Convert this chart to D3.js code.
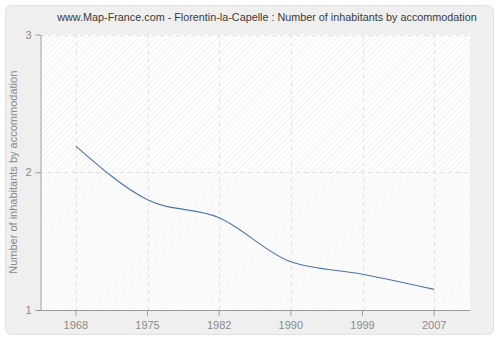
<!DOCTYPE html>
<html><head><meta charset="utf-8">
<script src="https://cdn.jsdelivr.net/npm/d3@7"></script>
<style>body{margin:0;background:#fff}svg{display:block}</style>
</head><body>
<script>
const title = "www.Map-France.com - Florentin-la-Capelle : Number of inhabitants by accommodation";
const yLabel = "Number of inhabitants by accommodation";
const years = ["1968","1975","1982","1990","1999","2007"];
const values = [2.19, 1.80, 1.67, 1.35, 1.26, 1.15];
const yTicks = [1, 2, 3];

const W = 500, H = 340;
const m = {left: 40, right: 470, top: 34.5, bottom: 310};
const svg = d3.select("body").append("svg").attr("width", W).attr("height", H);
const defs = svg.append("defs");
function hatch(id, bg, col){
  const p = defs.append("pattern").attr("id", id).attr("patternUnits","userSpaceOnUse")
    .attr("width", 4).attr("height", 4).attr("patternTransform","rotate(45)");
  p.append("rect").attr("width",4).attr("height",4).attr("fill",bg);
  p.append("line").attr("x1",0).attr("y1",0).attr("x2",0).attr("y2",4).attr("stroke",col).attr("stroke-width",1.2);
}
hatch("h1", "#ffffff", "#e9e9e9");
hatch("h2", "#fcfcfc", "#f2f2f2");

// outer panel
svg.append("rect").attr("x",5.5).attr("y",5.5).attr("width",488).attr("height",329).attr("rx",6)
  .attr("fill","#efefef").attr("stroke","#e2e2e2");

const x = d3.scaleBand().domain(years).range([m.left, m.right]);
const y = d3.scaleLinear().domain([1,3]).range([m.bottom, m.top]);

svg.append("rect").attr("x",m.left).attr("y",y(3)).attr("width",m.right-m.left).attr("height",y(2)-y(3)).attr("fill","url(#h1)");
svg.append("rect").attr("x",m.left).attr("y",y(2)).attr("width",m.right-m.left).attr("height",y(1)-y(2)).attr("fill","url(#h2)");

// grid
const g = svg.append("g");
g.selectAll(".vg").data(years).join("line")
  .attr("x1",d=>Math.round(x(d)+x.bandwidth()/2)+0.5).attr("x2",d=>Math.round(x(d)+x.bandwidth()/2)+0.5)
  .attr("y1",m.top).attr("y2",m.bottom)
  .attr("stroke","#e0e0e0").attr("stroke-dasharray","4,4");
g.selectAll(".hg").data(yTicks.slice(1)).join("line")
  .attr("x1",m.left).attr("x2",m.right)
  .attr("y1",d=>Math.round(y(d))+0.5).attr("y2",d=>Math.round(y(d))+0.5)
  .attr("stroke","#e0e0e0").attr("stroke-dasharray","4,4");

// line
const line = d3.line().x((d,i)=>x(years[i])+x.bandwidth()/2).y(d=>y(d)).curve(d3.curveMonotoneX);
svg.append("path").datum(values).attr("d",line).attr("fill","none").attr("stroke","#4a74ab").attr("stroke-width",1.1);

// axes
const font = "'Liberation Sans', Arial, sans-serif";
const xa = svg.append("g").attr("transform",`translate(0,${m.bottom+0.5})`)
  .call(d3.axisBottom(x).tickSize(5).tickSizeOuter(0).tickPadding(6));
const ya = svg.append("g").attr("transform",`translate(${m.left+0.5},0)`)
  .call(d3.axisLeft(y).tickValues(yTicks).tickFormat(d3.format("d")).tickSize(5).tickSizeOuter(0).tickPadding(4));
[xa, ya].forEach(a=>{
  a.select(".domain").attr("stroke","#9a9a9a");
  a.selectAll(".tick line").attr("stroke","#9a9a9a");
  a.selectAll("text").attr("fill","#8a8a8a").style("font-family",font).style("font-size","11px");
});
xa.select(".domain").attr("d",`M${m.left},0H${m.right}`);

svg.append("text").attr("x",267).attr("y",21).attr("text-anchor","middle")
  .style("font-family",font).style("font-size","10.8px").attr("fill","#3a3a3a").text(title);
svg.append("text").attr("transform",`translate(17,${y(2)}) rotate(-90)`).attr("text-anchor","middle")
  .style("font-family",font).style("font-size","11px").attr("fill","#8a8a8a").text(yLabel);
</script>
</body></html>
